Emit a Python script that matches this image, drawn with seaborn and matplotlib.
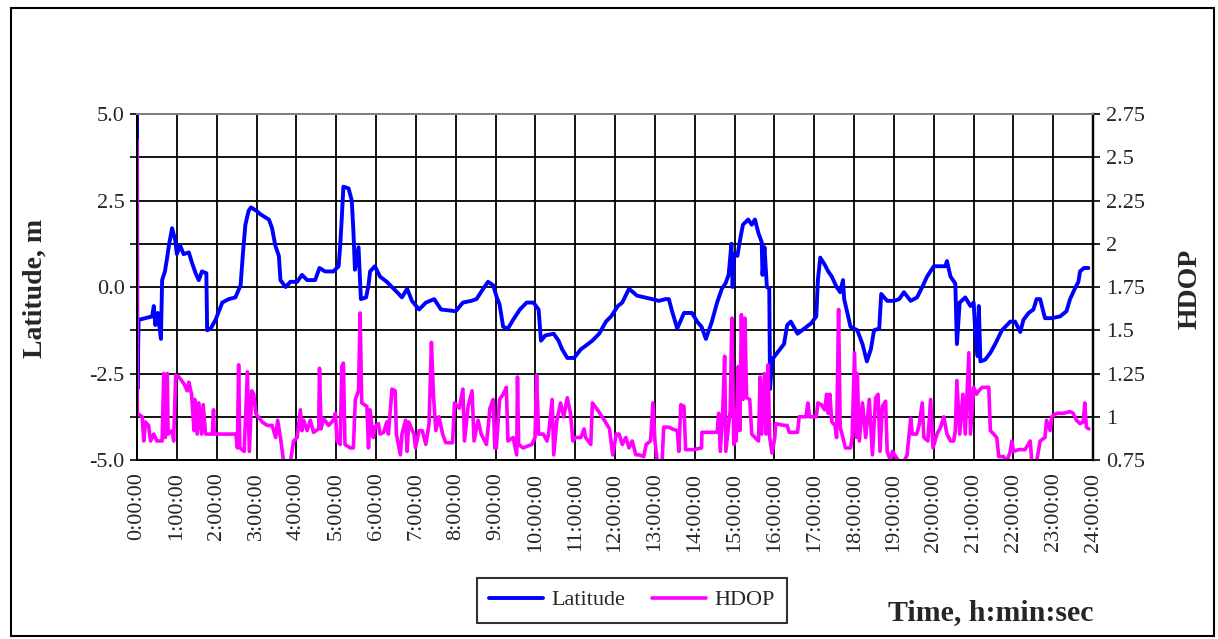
import numpy as np
import pandas as pd
import seaborn as sns
import matplotlib.pyplot as plt
from matplotlib.patches import Rectangle

# latitude deviation, m
lat_hours = [0.0, 0.01, 0.04, 0.38, 0.42, 0.46, 0.52, 0.6, 0.63, 0.7, 0.75, 0.8, 0.88, 0.96, 1.0, 1.08,
             1.17, 1.3, 1.38, 1.47, 1.55, 1.63, 1.74, 1.76, 1.85, 1.97, 2.14, 2.3, 2.47, 2.6, 2.66,
             2.72, 2.8, 2.86, 3.0, 3.1, 3.31, 3.39, 3.47, 3.56, 3.6, 3.73, 3.85, 4.02, 4.14, 4.27,
             4.47, 4.58, 4.72, 4.93, 5.06, 5.1, 5.14, 5.18, 5.31, 5.39, 5.43, 5.47, 5.56, 5.62, 5.75,
             5.81, 5.85, 5.97, 6.1, 6.27, 6.4, 6.57, 6.65, 6.78, 6.9, 7.08, 7.25, 7.46, 7.63, 8.0,
             8.18, 8.39, 8.52, 8.69, 8.81, 8.94, 9.03, 9.1, 9.19, 9.31, 9.44, 9.61, 9.78, 9.95,
             10.08, 10.14, 10.25, 10.46, 10.58, 10.67, 10.8, 10.97, 11.14, 11.26, 11.43, 11.6,
             11.77, 11.9, 12.07, 12.18, 12.35, 12.55, 12.93, 13.1, 13.27, 13.35, 13.43, 13.56,
             13.73, 13.93, 14.06, 14.17, 14.28, 14.43, 14.56, 14.68, 14.77, 14.85, 14.92, 14.95,
             14.98, 15.07, 15.15, 15.21, 15.34, 15.43, 15.51, 15.6, 15.68, 15.7, 15.75, 15.81,
             15.87, 15.89, 15.94, 16.07, 16.24, 16.32, 16.41, 16.58, 16.75, 16.92, 17.05, 17.09,
             17.15, 17.26, 17.35, 17.44, 17.56, 17.65, 17.72, 17.75, 17.82, 17.91, 18.08, 18.21,
             18.32, 18.42, 18.5, 18.63, 18.68, 18.83, 19.0, 19.13, 19.25, 19.42, 19.58, 19.71,
             19.83, 20.0, 20.29, 20.33, 20.42, 20.54, 20.58, 20.65, 20.79, 20.92, 21.0, 21.04,
             21.1, 21.13, 21.17, 21.29, 21.42, 21.54, 21.71, 21.92, 22.04, 22.17, 22.25, 22.38,
             22.5, 22.58, 22.67, 22.79, 22.96, 23.17, 23.33, 23.42, 23.54, 23.63, 23.67, 23.77,
             23.88]
lat_values = [5.0, -2.95, -0.95, -0.85, -0.55, -1.1, -0.75, -1.5, 0.2, 0.45, 0.8, 1.2, 1.7, 1.35, 0.95,
              1.2, 0.95, 1.0, 0.7, 0.4, 0.2, 0.45, 0.4, -1.25, -1.2, -0.95, -0.45, -0.35, -0.3,
              0.05, 1.0, 1.8, 2.2, 2.3, 2.2, 2.1, 1.95, 1.7, 1.2, 0.9, 0.2, 0.0, 0.15, 0.15, 0.35,
              0.2, 0.2, 0.55, 0.45, 0.45, 0.6, 1.2, 2.0, 2.9, 2.85, 2.5, 1.65, 0.5, 1.15, -0.35,
              -0.3, 0.05, 0.45, 0.6, 0.3, 0.15, 0.0, -0.2, -0.3, -0.05, -0.4, -0.65, -0.45, -0.35,
              -0.65, -0.7, -0.45, -0.4, -0.35, -0.05, 0.15, 0.05, -0.3, -0.5, -1.15, -1.2, -0.95,
              -0.65, -0.45, -0.45, -0.65, -1.55, -1.4, -1.35, -1.55, -1.8, -2.05, -2.05, -1.8,
              -1.7, -1.55, -1.35, -1.0, -0.85, -0.55, -0.45, -0.05, -0.25, -0.35, -0.4, -0.35,
              -0.35, -0.7, -1.2, -0.75, -0.75, -1.0, -1.15, -1.5, -1.0, -0.45, -0.05, 0.1, 0.35,
              1.25, 0.0, 0.95, 0.9, 1.45, 1.8, 1.95, 1.8, 1.95, 1.55, 1.3, 0.35, 1.15, 0.0, -0.05,
              -2.95, -2.1, -1.9, -1.65, -1.1, -1.0, -1.35, -1.2, -1.05, -0.85, 0.2, 0.85, 0.65,
              0.45, 0.3, 0.0, -0.15, 0.2, -0.35, -0.7, -1.15, -1.25, -1.65, -2.15, -1.8, -1.25,
              -1.2, -0.2, -0.4, -0.4, -0.35, -0.15, -0.4, -0.3, 0.0, 0.3, 0.6, 0.6, 0.75, 0.3, 0.1,
              -1.65, -0.45, -0.3, -0.55, -0.45, -1.25, -2.0, -0.55, -2.15, -2.1, -1.9, -1.65,
              -1.25, -1.0, -1.0, -1.3, -0.95, -0.75, -0.65, -0.35, -0.35, -0.9, -0.9, -0.85, -0.7,
              -0.35, -0.05, 0.15, 0.45, 0.55, 0.55]

# HDOP
hdop_hours = [0.0, 0.005, 0.13, 0.17, 0.21, 0.29, 0.34, 0.42, 0.5, 0.63, 0.67, 0.71, 0.76, 0.78, 0.88,
              0.92, 0.97, 1.05, 1.18, 1.26, 1.3, 1.37, 1.43, 1.45, 1.51, 1.55, 1.62, 1.66, 1.72,
              1.89, 1.92, 1.94, 2.48, 2.52, 2.55, 2.58, 2.69, 2.77, 2.82, 2.88, 2.93, 2.98, 3.14,
              3.27, 3.39, 3.48, 3.53, 3.6, 3.68, 3.73, 3.85, 3.93, 4.02, 4.1, 4.14, 4.18, 4.27,
              4.35, 4.43, 4.56, 4.58, 4.62, 4.68, 4.81, 4.93, 4.98, 5.02, 5.1, 5.14, 5.18, 5.22,
              5.35, 5.43, 5.48, 5.56, 5.6, 5.64, 5.77, 5.81, 5.85, 5.93, 5.97, 6.06, 6.1, 6.19,
              6.27, 6.31, 6.4, 6.48, 6.51, 6.61, 6.65, 6.74, 6.78, 6.82, 6.95, 6.99, 7.08, 7.16,
              7.25, 7.33, 7.39, 7.44, 7.5, 7.58, 7.67, 7.75, 7.92, 7.97, 8.09, 8.18, 8.22, 8.31,
              8.41, 8.46, 8.56, 8.64, 8.77, 8.86, 8.94, 8.98, 9.02, 9.1, 9.19, 9.27, 9.31, 9.44,
              9.53, 9.55, 9.58, 9.69, 9.91, 9.99, 10.03, 10.08, 10.2, 10.29, 10.33, 10.42, 10.46,
              10.54, 10.63, 10.71, 10.8, 10.88, 10.94, 11.0, 11.14, 11.22, 11.26, 11.39, 11.43,
              11.56, 11.73, 11.86, 11.94, 12.03, 12.1, 12.18, 12.27, 12.35, 12.43, 12.52, 12.6,
              12.72, 12.78, 12.89, 12.95, 13.0, 13.06, 13.18, 13.22, 13.35, 13.43, 13.56, 13.6,
              13.65, 13.73, 13.77, 13.97, 14.17, 14.18, 14.56, 14.6, 14.64, 14.7, 14.75, 14.78,
              14.89, 14.93, 14.98, 15.02, 15.04, 15.09, 15.13, 15.17, 15.21, 15.26, 15.3, 15.38,
              15.43, 15.51, 15.6, 15.64, 15.68, 15.75, 15.79, 15.84, 15.88, 15.94, 16.01, 16.03,
              16.24, 16.32, 16.37, 16.58, 16.62, 16.79, 16.84, 16.88, 17.05, 17.09, 17.18, 17.26,
              17.31, 17.35, 17.39, 17.44, 17.52, 17.56, 17.61, 17.65, 17.74, 17.78, 17.91, 17.95,
              18.01, 18.06, 18.08, 18.13, 18.21, 18.29, 18.38, 18.46, 18.54, 18.6, 18.65, 18.71,
              18.79, 18.83, 18.92, 18.96, 19.13, 19.25, 19.33, 19.38, 19.42, 19.46, 19.57, 19.63,
              19.71, 19.75, 19.85, 19.92, 19.98, 20.08, 20.17, 20.25, 20.33, 20.42, 20.5, 20.54,
              20.58, 20.65, 20.73, 20.79, 20.88, 20.92, 21.0, 21.07, 21.13, 21.21, 21.38, 21.42,
              21.5, 21.58, 21.63, 21.75, 21.83, 21.92, 21.96, 22.0, 22.13, 22.29, 22.42, 22.46,
              22.58, 22.67, 22.79, 22.83, 22.92, 22.96, 23.08, 23.25, 23.42, 23.5, 23.58, 23.67,
              23.75, 23.79, 23.83, 23.89]
hdop_values = [2.6, 1.02, 1.0, 0.86, 0.97, 0.95, 0.86, 0.9, 0.86, 0.86, 1.25, 0.88, 1.25, 0.9, 0.92,
               0.86, 1.24, 1.23, 1.19, 1.15, 1.2, 1.13, 0.92, 1.1, 0.9, 1.08, 0.9, 1.07, 0.9, 0.9,
               1.04, 0.9, 0.9, 0.82, 1.3, 0.82, 0.8, 1.26, 0.8, 1.15, 1.13, 1.02, 0.97, 0.95, 0.95,
               0.88, 0.98, 0.88, 0.74, 0.74, 0.74, 0.86, 0.88, 1.04, 0.92, 0.98, 0.92, 0.98, 0.91,
               0.93, 1.28, 0.93, 0.99, 0.95, 0.98, 1.02, 0.86, 0.84, 1.29, 1.31, 0.84, 0.82, 0.82,
               1.1, 1.15, 1.6, 1.08, 1.06, 0.82, 1.04, 0.88, 0.94, 0.96, 0.9, 0.91, 0.97, 0.9, 1.16,
               1.15, 0.9, 0.78, 0.9, 0.98, 0.8, 0.97, 0.9, 0.82, 0.92, 0.92, 0.84, 0.96, 1.43, 1.13,
               0.92, 1.0, 0.9, 0.85, 0.85, 1.08, 1.05, 1.16, 0.86, 1.06, 1.15, 0.86, 0.98, 0.9,
               0.84, 1.05, 1.1, 0.82, 0.82, 1.1, 1.13, 1.17, 0.86, 0.88, 0.78, 1.23, 0.84, 0.82,
               0.84, 0.88, 1.24, 0.9, 0.9, 0.86, 0.9, 1.1, 0.78, 0.98, 1.08, 1.0, 1.11, 1.02, 0.86,
               0.88, 0.88, 0.93, 0.88, 0.84, 1.08, 1.04, 0.98, 0.93, 0.78, 0.9, 0.9, 0.84, 0.88,
               0.82, 0.86, 0.78, 0.78, 0.77, 0.84, 0.86, 1.08, 0.86, 0.74, 0.74, 0.94, 0.94, 0.93,
               0.92, 0.8, 1.07, 1.06, 0.81, 0.81, 0.82, 0.91, 0.91, 1.02, 0.8, 1.02, 1.35, 0.8,
               1.04, 1.57, 0.84, 1.04, 0.86, 1.29, 0.92, 1.59, 1.1, 1.57, 1.11, 1.1, 0.9, 0.88, 0.86,
               1.23, 0.9, 1.25, 0.9, 1.3, 0.88, 0.79, 0.88, 0.96, 0.95, 0.95, 0.91, 0.91, 1.0, 1.0,
               1.08, 1.0, 1.0, 1.08, 1.07, 1.04, 1.13, 1.02, 1.13, 0.97, 0.95, 0.88, 1.62, 0.94,
               0.86, 0.82, 0.82, 0.88, 1.37, 0.88, 1.25, 0.86, 1.08, 0.88, 1.1, 0.78, 1.11, 1.13,
               0.8, 1.06, 1.09, 0.8, 0.74, 0.8, 0.74, 0.74, 0.78, 0.9, 0.99, 0.9, 0.9, 0.95, 1.08,
               0.88, 0.86, 1.1, 0.82, 0.9, 0.94, 1.0, 0.9, 0.86, 0.86, 0.92, 1.21, 0.9, 1.13, 0.9,
               1.37, 0.9, 1.17, 1.13, 1.15, 1.17, 1.17, 0.92, 0.9, 0.88, 0.77, 0.77, 0.74, 0.8,
               0.86, 0.8, 0.81, 0.81, 0.86, 0.74, 0.74, 0.86, 0.88, 0.98, 0.92, 1.0, 1.02, 1.02,
               1.03, 1.02, 0.98, 0.96, 0.97, 1.08, 0.94, 0.93]

hour_ticks = list(range(0, 25))
hour_labels = [f"{h}:00:00" for h in hour_ticks]
lat_ticks = [-5.0, -3.75, -2.5, -1.25, 0.0, 1.25, 2.5, 3.75, 5.0]
hdop_ticks = [0.75, 1.0, 1.25, 1.5, 1.75, 2.0, 2.25, 2.5, 2.75]

sns.set_style("white")
plt.rcParams['font.family'] = ['Liberation Serif', 'DejaVu Serif']

lat_df = pd.DataFrame({'Time': lat_hours, 'Latitude': lat_values})
hdop_df = pd.DataFrame({'Time': hdop_hours, 'HDOP': hdop_values})

fig = plt.figure(figsize=(12.18, 6.39), dpi=100)
ax = fig.add_axes([0.1125, 0.2801, 0.785, 0.5415])
ax2 = ax.twinx()

sns.lineplot(data=lat_df, x='Time', y='Latitude', ax=ax, color='#0000FF', linewidth=2.8,
             estimator=None, sort=False, label='Latitude')
sns.lineplot(data=hdop_df, x='Time', y='HDOP', ax=ax2, color='#FF00FF', linewidth=2.6,
             estimator=None, sort=False, label='HDOP')

ax.set_xlim(0, 24)
ax.set_ylim(-5, 5)
ax2.set_ylim(0.75, 2.75)
ax.set_xticks(hour_ticks)
ax.set_xticklabels(hour_labels, rotation=90, fontsize=16)
ax.set_yticks(lat_ticks)
ax.set_yticklabels([f"{v:.1f}" if abs(v) % 2.5 == 0 else "" for v in lat_ticks], fontsize=16)
ax2.set_yticks(hdop_ticks)
ax2.set_yticklabels(["0.75", "1", "1.25", "1.5", "1.75", "2", "2.25", "2.5", "2.75"], fontsize=16)

ax.grid(True, color='black', linewidth=1.3)
ax.set_axisbelow(True)
ax.tick_params(axis='both', direction='out', length=5, width=1.2, color='black', pad=4)
ax2.tick_params(axis='y', direction='out', length=5, width=1.2, color='black', pad=4)
for a in [ax, ax2]:
    for sp in a.spines.values():
        sp.set_linewidth(1.4)
        sp.set_color('black')
    a.spines['top'].set_color('#808080')
    a.spines['right'].set_linewidth(1.6)

ax.set_xlabel('')
ax.set_ylabel('')
ax2.set_ylabel('')

h1, l1 = ax.get_legend_handles_labels()
h2, l2 = ax2.get_legend_handles_labels()
ax.get_legend().remove()
ax2.get_legend().remove()
leg = fig.legend(h1 + h2, l1 + l2, loc='center', bbox_to_anchor=(0.519, 0.061), ncol=2,
                 fontsize=16, frameon=True, fancybox=False, edgecolor='black',
                 handlelength=2.4, handletextpad=0.4, columnspacing=1.2, borderpad=0.55)
leg.get_frame().set_linewidth(1.5)

fig.text(0.029, 0.548, 'Latitude, m', rotation=90, ha='center', va='center',
         fontsize=20, fontweight='bold')
fig.text(0.977, 0.548, 'HDOP', rotation=90, ha='center', va='center',
         fontsize=20, fontweight='bold')
fig.text(0.898, 0.042, 'Time, h:min:sec', ha='right', va='center',
         fontsize=21.5, fontweight='bold')

fig.patches.append(Rectangle((0.009, 0.005), 0.988, 0.982, transform=fig.transFigure,
                             fill=False, edgecolor='black', linewidth=1.5))

plt.savefig('out.png', dpi=100)
